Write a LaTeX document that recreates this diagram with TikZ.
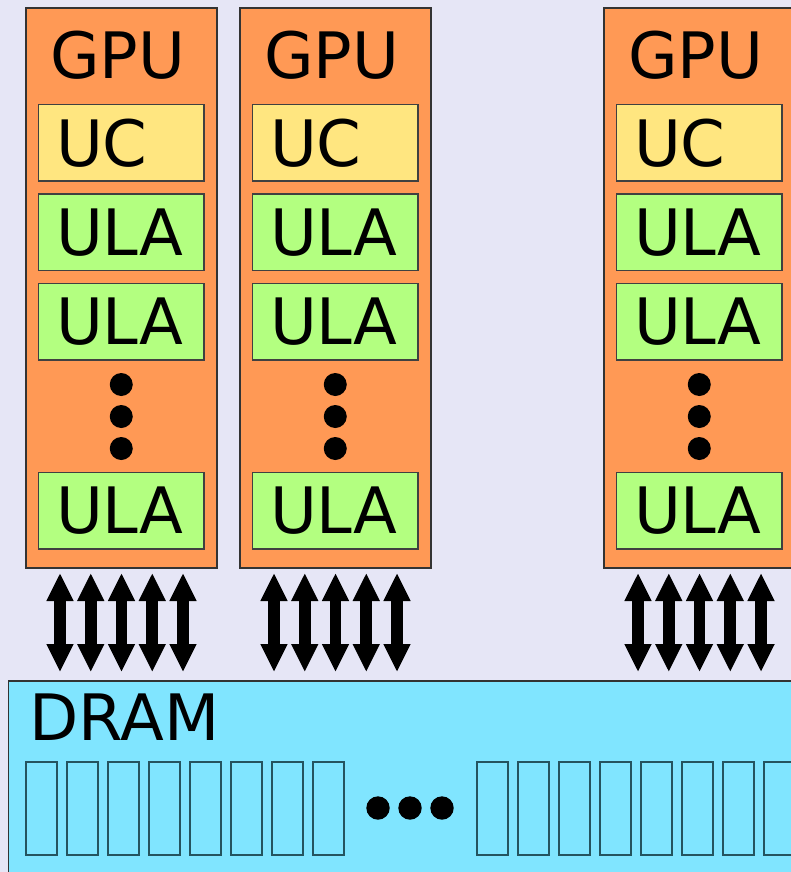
\documentclass[tikz,border=0pt]{standalone}
\usepackage{fontspec}
\setmainfont{DejaVu Sans}
\usetikzlibrary{arrows.meta,positioning}
\definecolor{bglav}{HTML}{E6E6F6}
\definecolor{gpuorange}{HTML}{FF9955}
\definecolor{ucyellow}{HTML}{FFE680}
\definecolor{ulagreen}{HTML}{B3FF80}
\definecolor{dramblue}{HTML}{80E5FF}
\definecolor{cellline}{HTML}{24545F}

\begin{document}
\begin{tikzpicture}[x=0.5pt, y=-0.5pt, node distance=6.5pt,
  every node/.style={font=\fontsize{32}{39}\selectfont, outer sep=0pt},
  gpu/.style={draw=black!80, fill=gpuorange, line width=0.75pt, minimum width=95.5pt, minimum height=280pt, anchor=north west},
  unit/.style={draw=black!75, line width=0.75pt, minimum width=82.75pt, minimum height=38.25pt, text width=65.25pt, inner xsep=8.75pt, inner ysep=0pt, align=left},
  cell/.style={draw=cellline, line width=0.6pt, minimum width=15.5pt, minimum height=46.5pt, inner sep=0pt, anchor=north west},
  bus/.style={line width=5.8pt, {Triangle[length=14pt,width=12.6pt]}-{Triangle[length=14pt,width=12.6pt]}}]
\useasboundingbox (0,0) rectangle (791,872);
\fill[bglav] (0,0) rectangle (791,872);
\clip (0,0) rectangle (791,872);

% memory
\node[draw=black!80, fill=dramblue, line width=0.75pt, anchor=north west, minimum width=420pt, minimum height=100pt] (dram) at (8.5,681) {};
\node[anchor=base west] (dramlbl) at ([shift={(7pt,-29.5pt)}]dram.north west) {DRAM};
\foreach \c in {0,...,7} {
  \node[cell] (cellL\c) at (26+41*\c,762) {};
  \node[cell] (cellR\c) at (477+41*\c,762) {};
}
\foreach \x in {378,410,442}
  \fill (\x,808) circle (5.85pt);

% processors
\foreach \g/\x in {A/26,B/240,C/604} {
  \node[gpu] (gpu\g) at (\x,8) {};
  \node[anchor=base west] (lbl\g) at ([shift={(8.75pt,-35.5pt)}]gpu\g.north west) {GPU};
  \node[unit, fill=ucyellow, anchor=north west] (uc\g) at ([shift={(6.25pt,-48.25pt)}]gpu\g.north west) {UC};
  \node[unit, fill=ulagreen, below=of uc\g] (ula\g1) {ULA};
  \node[unit, fill=ulagreen, below=of ula\g1] (ula\g2) {ULA};
  \node[unit, fill=ulagreen, below=56.25pt of ula\g2] (ula\g3) {ULA};
  \foreach \d in {12.25,28.25,44.25}
    \fill ([yshift=-\d pt]ula\g2.south) circle (5.75pt);
  \foreach \k in {-2,...,2}
    \draw[bus, shorten >=4.5pt] ([xshift={\k*15.375pt}, yshift=-2.5pt]gpu\g.south) -- ([xshift={\k*15.375pt}]gpu\g.south |- dram.north);
}
\end{tikzpicture}
\end{document}
